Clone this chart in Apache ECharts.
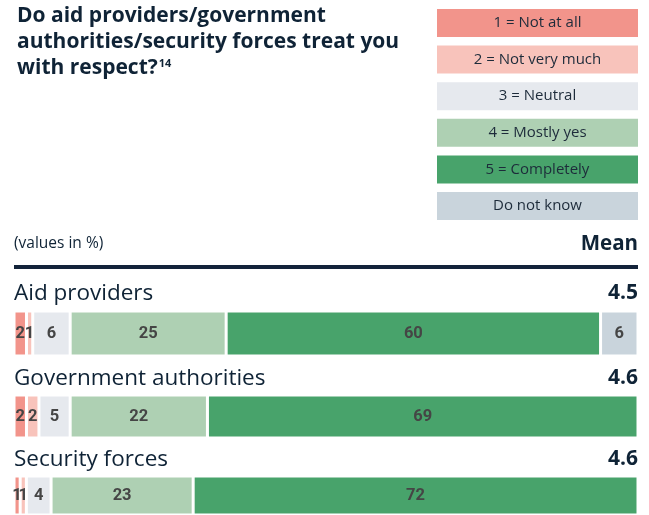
<!DOCTYPE html>
<html><head><meta charset="utf-8">
<script src="https://cdn.jsdelivr.net/npm/echarts@6/dist/echarts.min.js"></script>
<style>html,body{margin:0;padding:0;background:#fff}#c{width:649px;height:515px}</style>
</head><body><div id="c"></div>
<script>
const titleLines = ['Do aid providers/government', 'authorities/security forces treat you', 'with respect?'];
const footnote = '14';
const categories = ['1 = Not at all', '2 = Not very much', '3 = Neutral', '4 = Mostly yes', '5 = Completely', 'Do not know'];
const colors = ['#f2948b', '#f8c3bb', '#e6e9ee', '#aed0b3', '#48a36b', '#c9d4dc'];
const rows = ['Aid providers', 'Government authorities', 'Security forces'];
const means = ['4.5', '4.6', '4.6'];
const aidValues = [2, 1, 6, 25, 60, 6];
const govValues = [2, 2, 5, 22, 69, 0];
const secValues = [1, 1, 4, 23, 72, 0];
const rowValues = [aidValues, govValues, secValues];

const dark = '#0f2336';
const FF = '"Open Sans", sans-serif';
const L = 14, R = 638, W = R - L;
const barTops = [311, 395, 476];
const barHeights = [45, 43, 44];
const labelY = [293.5, 378.5, 459.5];

const grids = [], xAxes = [], yAxes = [], series = [];
rowValues.forEach((vals, gi) => {
  const total = vals.reduce((a, b) => a + b, 0);
  grids.push({left: L, width: W, top: barTops[gi], height: barHeights[gi]});
  xAxes.push({type: 'value', gridIndex: gi, min: 0, max: total, show: false});
  yAxes.push({type: 'category', gridIndex: gi, data: [rows[gi]], show: false});
  vals.forEach((v, ci) => {
    series.push({
      type: 'bar', stack: 'r' + gi, xAxisIndex: gi, yAxisIndex: gi,
      barWidth: '100%', data: [v], silent: true,
      itemStyle: {color: colors[ci], borderColor: '#fff', borderWidth: 1.5},
      label: {show: v > 0, position: 'inside', formatter: '{c}', color: '#454545',
        fontFamily: 'Liberation Sans Narrow, Roboto, sans-serif', fontWeight: 'bold', fontSize: 16.5}
    });
  });
});

const graphic = [];
titleLines.forEach((t, i) => {
  graphic.push({type: 'text', left: 17, top: 6 + i * 26, style: {text: t, fill: dark, font: 'bold 21px ' + FF}});
});
graphic.push({type: 'text', left: 18, top: 64, id: 'fn', style: {text: '', fill: dark}});
categories.forEach((c, i) => {
  const y = 9 + i * 36.6;
  graphic.push({type: 'rect', shape: {x: 437, y: y, width: 201, height: 28}, style: {fill: colors[i]}});
  graphic.push({type: 'text', x: 537.5, y: y + 14, style: {text: c, fill: '#1d2b3a', font: '15px ' + FF, align: 'center', verticalAlign: 'middle'}});
});
graphic.push({type: 'text', x: L, y: 243.5, style: {text: '(values in %)', fill: dark, font: '15.5px ' + FF, verticalAlign: 'middle'}});
graphic.push({type: 'text', x: R, y: 244, style: {text: 'Mean', fill: dark, font: 'bold 20.5px ' + FF, align: 'right', verticalAlign: 'middle'}});
graphic.push({type: 'rect', shape: {x: L, y: 265, width: W, height: 4}, style: {fill: '#13233a'}});
rows.forEach((r, i) => {
  graphic.push({type: 'text', x: L, y: labelY[i], style: {text: r, fill: dark, font: '22.5px ' + FF, verticalAlign: 'middle'}});
  graphic.push({type: 'text', x: R, y: labelY[i] - 0.5, style: {text: means[i], fill: dark, font: 'bold 21px ' + FF, align: 'right', verticalAlign: 'middle'}});
});

const chart = echarts.init(document.getElementById('c'), null, {renderer: 'canvas'});
chart.setOption({animation: false, grid: grids, xAxis: xAxes, yAxis: yAxes, series: series, graphic: graphic});

const ctx = document.createElement('canvas').getContext('2d');
ctx.font = 'bold 21px ' + FF;
const w = ctx.measureText(titleLines[2]).width;
chart.setOption({graphic: [{id: 'fn', type: 'text', left: 17 + w + 1, top: 58, style: {text: footnote, fill: dark, font: 'bold 11px ' + FF}}]});
</script></body></html>
